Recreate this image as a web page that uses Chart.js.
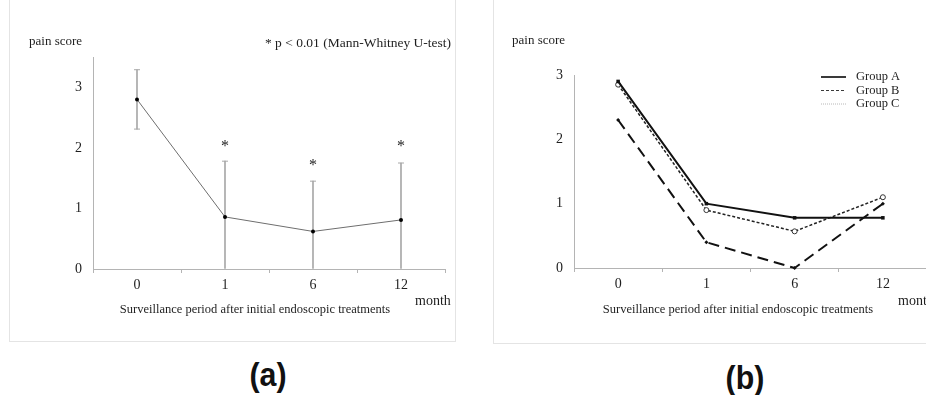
<!DOCTYPE html>
<html>
<head>
<meta charset="utf-8">
<script src="https://cdn.jsdelivr.net/npm/chart.js@4.4.1/dist/chart.umd.min.js"></script>
<style>
    html, body { margin: 0; padding: 0; background: #fff; overflow: hidden; width: 926px; height: 395px; }
    .box { position: absolute; border: 1px solid #e4e4e4; border-top: none; }
    canvas { position: absolute; }
    .tag { position: absolute; font-family: "Liberation Sans", Arial, sans-serif; font-weight: bold; font-size: 33px; line-height: 1; color: #111; transform: translate(-50%, -50%) scaleX(0.92); }
</style>
</head>
<body>
<div class="box" style="left:9px; top:0; width:445px; height:341px;"></div>
<div class="box" style="left:493px; top:0; width:460px; height:343px;"></div>
<canvas id="chart-a" width="446" height="333" style="left:9px; top:8px;"></canvas>
<canvas id="chart-b" width="440" height="335" style="left:493px; top:8px;"></canvas>
<div class="tag" style="left:268px; top:374px;">(a)</div>
<div class="tag" style="left:745px; top:377px;">(b)</div>

<script>
// Data
const months = ['0', '1', '6', '12'];

// (a) mean pain score with error bars
const meanScore = [2.8, 0.86, 0.62, 0.81];
const errLow = [2.31, 0, 0, 0];
const errHigh = [3.29, 1.78, 1.45, 1.75];
const starAt = [null, 2.06, 1.75, 2.06];

// (b) groups
const groupNames = ['Group A', 'Group B', 'Group C'];
const groupA = [2.9, 1.0, 0.78, 0.78];
const groupB = [2.85, 0.9, 0.57, 1.1];
const groupC = [2.3, 0.4, 0, 1.0];

const serif = '"Liberation Serif", "Times New Roman", serif';
const axisGrey = '#b4b4b4';
const textCol = '#1e1e1e';

Chart.defaults.font.family = serif;
Chart.defaults.font.size = 14;
Chart.defaults.color = textCol;

// small helper for text on the canvas
function txt(ctx, s, x, y, align, size) {
    ctx.save();
    ctx.font = (size || 13) + 'px ' + serif;
    ctx.fillStyle = textCol;
    ctx.textAlign = align || 'left';
    ctx.textBaseline = 'middle';
    ctx.fillText(s, x, y);
    ctx.restore();
}

function xScale(height) {
    return {
        offset: true,
        grid: { offset: true, drawOnChartArea: false, drawTicks: true, tickLength: 4, color: axisGrey },
        border: { color: axisGrey },
        ticks: { padding: 4, color: textCol, font: { size: 14 } },
        afterFit: s => { s.height = height; }
    };
}

function yScale(max, width) {
    return {
        min: 0,
        max: max,
        grid: { drawOnChartArea: false, drawTicks: false },
        border: { color: axisGrey },
        ticks: {
            stepSize: 1,
            padding: 11,
            color: textCol,
            font: { size: 14 },
            callback: v => Number.isInteger(v) ? v : null
        },
        afterFit: s => { s.width = width; }
    };
}

// ---- (a) ----
const labelsA = {
    id: 'labelsA',
    afterDraw(chart) {
        const ctx = chart.ctx;
        const x = chart.scales.x, y = chart.scales.y;
        txt(ctx, 'pain score', 20, 34, 'left', 13);
        txt(ctx, '* p < 0.01 (Mann-Whitney U-test)', 442, 35, 'right', 13.5);
        txt(ctx, 'month', 406, 293, 'left', 14);
        txt(ctx, 'Surveillance period after initial endoscopic treatments', 246, 302, 'center', 12.5);
        starAt.forEach((v, i) => {
            if (v !== null) txt(ctx, '*', x.getPixelForValue(i), y.getPixelForValue(v) + 3, 'center', 16);
        });
    }
};

new Chart(document.getElementById('chart-a'), {
    type: 'bar',
    data: {
        labels: months,
        datasets: [
            {
                type: 'line',
                data: meanScore,
                borderColor: '#6e6e6e',
                borderWidth: 1,
                pointRadius: 2,
                pointBackgroundColor: '#000',
                pointBorderWidth: 0,
                order: 0
            },
            {
                // error bar stems
                data: errLow.map((l, i) => [l, errHigh[i]]),
                backgroundColor: '#a8a8a8',
                barThickness: 1,
                order: 3
            },
            {
                // upper caps
                type: 'line',
                data: errHigh,
                showLine: false,
                pointStyle: 'line',
                pointRadius: 3,
                borderColor: '#a8a8a8',
                borderWidth: 1,
                order: 2
            },
            {
                // lower caps
                type: 'line',
                data: errLow.map(v => v > 0 ? v : null),
                showLine: false,
                pointStyle: 'line',
                pointRadius: 3,
                borderColor: '#a8a8a8',
                borderWidth: 1,
                order: 2
            }
        ]
    },
    options: {
        responsive: false,
        animation: false,
        layout: { padding: { top: 49, right: 10, left: 0, bottom: 0 } },
        plugins: { legend: { display: false }, tooltip: { enabled: false } },
        scales: { x: xScale(72), y: yScale(3.5, 84) }
    },
    plugins: [labelsA]
});

// ---- (b) ----
const legendStyle = [
    { color: '#3a3a3a', width: 2, dash: [] },
    { color: '#3a3a3a', width: 1, dash: [3, 2] },
    { color: '#b8b8b8', width: 1, dash: [1, 1] }
];

const labelsB = {
    id: 'labelsB',
    afterDraw(chart) {
        const ctx = chart.ctx;
        txt(ctx, 'pain score', 19, 33, 'left', 13);
        txt(ctx, 'month', 405, 293, 'left', 14);
        txt(ctx, 'Surveillance period after initial endoscopic treatments', 245, 302, 'center', 12.5);
        groupNames.forEach((name, i) => {
            const ly = 69 + i * 13.5;
            const st = legendStyle[i];
            ctx.save();
            ctx.strokeStyle = st.color;
            ctx.lineWidth = st.width;
            ctx.setLineDash(st.dash);
            ctx.beginPath();
            ctx.moveTo(328, ly);
            ctx.lineTo(353, ly);
            ctx.stroke();
            ctx.restore();
            txt(ctx, name, 363, ly, 'left', 12.5);
        });
    }
};

new Chart(document.getElementById('chart-b'), {
    type: 'line',
    data: {
        labels: months,
        datasets: [
            {
                label: groupNames[0],
                data: groupA,
                borderColor: '#111',
                borderWidth: 2,
                pointStyle: 'rect',
                pointRadius: 2.5,
                pointBackgroundColor: '#111',
                pointBorderWidth: 0,
                clip: 5
            },
            {
                label: groupNames[1],
                data: groupB,
                borderColor: '#222',
                borderWidth: 1.5,
                borderDash: [3, 2],
                pointStyle: 'circle',
                pointRadius: 2.5,
                pointBackgroundColor: '#fff',
                pointBorderColor: '#333',
                pointBorderWidth: 1,
                clip: 5
            },
            {
                label: groupNames[2],
                data: groupC,
                borderColor: '#111',
                borderWidth: 2,
                borderDash: [11, 6],
                pointStyle: 'rectRot',
                pointRadius: 2,
                pointBackgroundColor: '#111',
                pointBorderWidth: 0,
                clip: 5
            }
        ]
    },
    options: {
        responsive: false,
        animation: false,
        layout: { padding: { top: 67, right: 6, left: 0, bottom: 0 } },
        plugins: { legend: { display: false }, tooltip: { enabled: false } },
        scales: { x: xScale(75), y: yScale(3, 81) }
    },
    plugins: [labelsB]
});
</script>
</body>
</html>
